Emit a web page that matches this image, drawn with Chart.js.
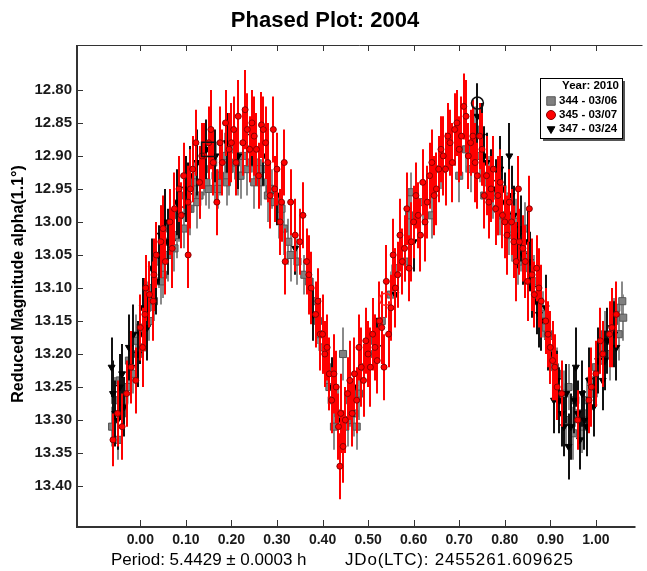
<!DOCTYPE html>
<html>
<head>
<meta charset="utf-8">
<script src="https://cdn.jsdelivr.net/npm/chart.js@4.4.1/dist/chart.umd.min.js"></script>
<style>
  html, body { margin: 0; padding: 0; background: #fff; }
  #wrap { width: 647px; height: 571px; }
</style>
</head>
<body>
<div id="wrap"><canvas id="c" width="647" height="571"></canvas></div>
<script>
// ── data ─────────────────────────────────────────
const xTicks = [0, 0.1, 0.2, 0.3, 0.4, 0.5, 0.6, 0.7, 0.8, 0.9, 1.0];
const yTicks = [12.80, 12.85, 12.90, 12.95, 13.00, 13.05, 13.10, 13.15, 13.20, 13.25, 13.30, 13.35, 13.40];

// 344 - 03/06 (grey squares)
const s344Phase = [-0.062,-0.055,-0.05,-0.045,-0.04,-0.03,-0.025,-0.015,-0.01,0.0,0.005,0.015,0.025,0.03,0.04,0.05,0.055,0.065,0.075,0.085,
  0.095,0.10,0.11,0.12,0.13,0.14,0.15,0.16,0.175,0.185,0.195,0.205,0.215,0.225,0.235,0.245,0.255,0.265,0.275,0.285,
  0.295,0.305,0.315,0.325,0.37,0.38,0.39,0.40,0.41,0.42,0.425,0.435,0.445,0.45,0.46,0.47,0.48,0.49,0.50,0.515,
  0.53,0.55,0.58,0.59,0.595,0.62,0.66,0.715,0.725,0.735,0.745,0.755,0.765,0.775,0.785,0.795,0.805,0.815,0.825,0.835,
  0.845,0.855,0.865,0.875,0.885,0.895,0.905,0.915,0.925,0.935,0.94,0.95,0.96,0.97,0.98,0.99,1.00,1.01,1.02,1.03,
  1.04,1.05,1.058,1.06,
  -0.035,-0.005,0.02,0.045,0.06,0.08,0.105,0.125,0.145,0.165,0.17,0.19,0.21,0.22,0.24,0.25,0.26,0.28,0.29,0.31,
  0.33,0.345,0.36,0.395,0.415,0.455,0.475,0.56,0.64,0.70,0.76,0.79,0.81,0.83,0.85,0.87,0.89,0.91,0.93,0.955,
  0.975,0.995,1.015,1.035,1.045];
const s344Mag = [13.31,13.27,13.33,13.24,13.29,13.25,13.21,13.23,13.18,13.16,13.19,13.13,13.10,13.12,13.06,13.08,13.03,13.01,13.04,12.99,
  13.01,12.96,12.98,12.94,12.96,12.92,12.95,12.91,12.93,12.90,12.92,12.89,12.93,12.90,12.92,12.89,12.91,12.94,12.92,12.95,
  12.97,12.99,13.01,13.03,13.09,13.12,13.15,13.19,13.22,13.27,13.31,13.29,13.20,13.31,13.27,13.29,13.26,13.22,13.20,13.18,
  13.15,13.11,13.06,12.99,12.955,12.97,12.92,12.89,12.92,12.86,12.90,12.96,12.93,12.96,12.98,12.95,12.99,13.02,13.00,13.04,
  13.01,13.07,13.09,13.12,13.14,13.17,13.20,13.23,13.27,13.30,13.25,13.32,13.29,13.31,13.27,13.24,13.22,13.19,13.17,13.20,
  13.15,13.17,13.12,13.145,
  13.27,13.20,13.15,13.09,13.05,13.02,12.98,12.97,12.94,12.93,12.95,12.94,12.91,12.93,12.91,12.94,12.92,12.96,12.95,12.98,
  13.05,13.06,13.08,13.17,13.25,13.30,13.31,13.07,12.99,12.93,12.94,12.99,13.01,13.06,13.05,13.11,13.16,13.22,13.26,13.27,
  13.29,13.26,13.21,13.18,13.13];
const s344Err = [0.03,0.035,0.03,0.04,0.035,0.04,0.035,0.03,0.04,0.035,0.03,0.04,0.035,0.03,0.04,0.035,0.03,0.04,0.035,0.04,
  0.03,0.035,0.04,0.03,0.035,0.04,0.03,0.035,0.03,0.035,0.04,0.035,0.03,0.035,0.04,0.035,0.03,0.035,0.04,0.035,
  0.03,0.035,0.04,0.035,0.03,0.035,0.035,0.04,0.035,0.04,0.035,0.04,0.04,0.035,0.04,0.035,0.04,0.035,0.035,0.04,
  0.035,0.035,0.03,0.035,0.03,0.035,0.03,0.035,0.035,0.035,0.04,0.035,0.03,0.035,0.04,0.035,0.035,0.04,0.035,0.035,
  0.04,0.035,0.04,0.035,0.035,0.04,0.035,0.04,0.035,0.04,0.035,0.04,0.035,0.04,0.035,0.04,0.035,0.04,0.035,0.04,
  0.035,0.04,0.03,0.035,
  0.035,0.04,0.03,0.035,0.04,0.035,0.03,0.04,0.035,0.04,0.03,0.035,0.04,0.035,0.03,0.04,0.035,0.04,0.03,0.035,
  0.04,0.035,0.03,0.04,0.035,0.04,0.035,0.03,0.035,0.04,0.035,0.03,0.04,0.035,0.04,0.035,0.03,0.04,0.035,0.04,
  0.035,0.04,0.035,0.03,0.035];

// 345 - 03/07 (red circles)
const s345Phase = [-0.06,-0.05,-0.04,-0.03,-0.02,-0.01,0.0,0.01,0.02,0.03,0.035,0.045,0.055,0.065,0.075,0.085,0.095,0.105,0.105,0.115,
  0.122,0.13,0.14,0.15,0.16,0.168,0.175,0.187,0.195,0.205,0.215,0.225,0.235,0.245,0.255,0.26,0.266,0.275,0.285,0.292,
  0.30,0.307,0.316,0.318,0.33,0.34,0.357,0.365,0.375,0.385,0.395,0.405,0.415,0.42,0.43,0.435,0.438,0.445,0.45,0.455,
  0.465,0.47,0.48,0.49,0.50,0.51,0.52,0.53,0.535,0.54,0.55,0.555,0.565,0.57,0.58,0.585,0.59,0.60,0.605,0.615,
  0.62,0.63,0.64,0.65,0.66,0.67,0.68,0.69,0.70,0.71,0.715,0.72,0.73,0.74,0.75,0.755,0.765,0.775,0.78,0.79,
  0.80,0.81,0.82,0.83,0.832,0.845,0.854,0.86,0.87,0.88,0.89,0.90,0.91,0.925,0.96,0.985,1.00,1.015,1.03,1.045,
  0.005,0.012,0.028,0.05,0.07,0.09,0.11,0.135,0.155,0.18,0.20,0.21,0.23,0.24,0.25,0.27,0.28,0.295,0.31,0.35,
  0.37,0.39,0.40,0.41,0.425,0.44,0.46,0.475,0.485,0.495,0.505,0.515,0.525,0.545,0.56,0.575,0.595,0.61,0.625,0.635,
  0.645,0.655,0.665,0.675,0.685,0.695,0.705,0.725,0.735,0.745,0.76,0.77,0.785,0.795,0.805,0.815,0.825,0.84,0.85,0.865,
  0.875,0.895,0.905,0.915,0.99,1.01,1.035];
const s345Mag = [13.33,13.29,13.31,13.26,13.22,13.24,13.16,13.14,13.11,13.08,13.05,13.03,13.06,13.00,12.98,12.95,12.93,13.05,12.97,12.92,
  12.88,12.94,12.90,12.88,12.91,12.97,12.88,12.85,12.89,12.86,12.84,12.88,12.86,12.85,12.89,12.93,12.853,12.88,12.96,12.86,
  12.92,13.00,12.91,13.06,12.97,13.02,12.99,13.06,13.10,13.14,13.17,13.20,13.23,13.27,13.25,13.31,13.37,13.34,13.30,13.26,
  13.29,13.23,13.19,13.24,13.20,13.17,13.21,13.16,13.22,13.09,13.13,13.05,13.08,13.02,13.04,12.98,13.07,13.00,12.96,13.02,
  12.94,12.97,12.91,12.95,12.89,12.92,12.88,12.86,12.89,12.825,12.84,12.90,12.87,12.93,12.89,12.96,12.97,12.92,12.98,12.94,
  13.00,12.97,13.03,12.95,13.03,13.06,12.98,13.08,13.07,13.12,13.15,13.19,13.22,13.26,13.30,13.27,13.23,13.20,13.17,13.14,
  13.19,13.10,13.12,13.01,13.04,12.99,12.95,12.90,12.86,12.91,12.88,12.91,12.83,12.89,12.87,12.86,12.91,12.95,12.97,13.03,
  13.08,13.12,13.17,13.19,13.23,13.29,13.24,13.27,13.22,13.18,13.22,13.19,13.15,13.17,13.10,13.06,13.03,12.99,13.00,12.93,
  12.96,12.92,12.90,12.87,12.91,12.85,12.87,12.88,12.91,12.87,12.93,12.95,12.96,12.99,13.02,13.00,13.06,13.04,13.09,13.11,
  13.10,13.17,13.21,13.25,13.25,13.18,13.16];
const s345Err = [0.04,0.05,0.05,0.05,0.055,0.05,0.05,0.055,0.05,0.055,0.05,0.055,0.05,0.05,0.055,0.05,0.05,0.05,0.055,0.05,
  0.05,0.055,0.05,0.055,0.05,0.05,0.055,0.05,0.055,0.05,0.055,0.05,0.055,0.05,0.055,0.05,0.05,0.055,0.05,0.05,
  0.055,0.05,0.05,0.05,0.05,0.055,0.05,0.05,0.055,0.05,0.055,0.05,0.055,0.05,0.055,0.05,0.05,0.055,0.05,0.055,
  0.05,0.055,0.05,0.055,0.05,0.055,0.05,0.055,0.05,0.055,0.05,0.055,0.05,0.055,0.05,0.055,0.05,0.055,0.05,0.055,
  0.05,0.055,0.05,0.055,0.05,0.055,0.05,0.055,0.05,0.05,0.055,0.05,0.055,0.05,0.055,0.05,0.055,0.05,0.055,0.05,
  0.055,0.05,0.055,0.05,0.05,0.055,0.05,0.055,0.05,0.055,0.05,0.055,0.05,0.05,0.045,0.05,0.05,0.05,0.05,0.05,
  0.06,0.05,0.06,0.05,0.06,0.05,0.06,0.05,0.06,0.05,0.06,0.05,0.06,0.05,0.06,0.05,0.06,0.05,0.06,0.05,
  0.06,0.05,0.06,0.05,0.06,0.06,0.06,0.05,0.06,0.05,0.06,0.05,0.06,0.05,0.06,0.05,0.06,0.05,0.06,0.05,
  0.06,0.05,0.06,0.05,0.06,0.05,0.06,0.05,0.06,0.05,0.06,0.05,0.06,0.05,0.06,0.05,0.06,0.05,0.06,0.05,
  0.06,0.05,0.06,0.05,0.06,0.05,0.06];

// 347 - 03/24 (black triangles)
const s347Phase = [-0.063,-0.06,-0.05,-0.045,-0.035,-0.025,-0.015,-0.005,0.005,0.015,0.025,0.035,0.045,0.055,0.07,0.08,0.09,0.10,0.11,0.125,
  0.145,0.165,0.19,0.215,0.245,0.27,0.30,0.34,0.38,0.42,0.44,0.47,0.52,0.56,0.60,0.74,0.75,0.76,0.77,0.78,
  0.79,0.80,0.81,0.82,0.83,0.84,0.85,0.86,0.87,0.88,0.89,0.90,0.908,0.915,0.925,0.935,0.94,0.945,0.953,0.956,
  0.965,0.97,0.975,0.985,0.995,1.005,1.015,1.025,1.035,1.045,
  -0.055,-0.04,-0.02,0.0,0.02,0.04,0.06,0.085,0.105,0.755,0.795,0.815,0.835,0.855,0.875,0.895,0.92,0.93,0.96,0.98,
  0.99,1.02,1.04];
const s347Mag = [13.22,13.26,13.30,13.25,13.28,13.19,13.17,13.20,13.13,13.16,13.07,13.09,13.02,13.00,13.03,12.97,12.99,12.95,12.93,12.91,
  12.89,12.90,12.88,12.90,12.87,12.90,12.96,13.04,13.14,13.25,13.30,13.25,13.19,13.11,13.03,12.84,12.87,12.91,12.94,12.95,
  12.92,12.97,12.90,12.99,13.02,13.05,13.03,13.10,13.12,13.15,13.13,13.20,13.27,13.24,13.29,13.26,13.34,13.31,13.27,13.22,
  13.33,13.26,13.30,13.24,13.28,13.21,13.24,13.18,13.16,13.19,
  13.29,13.23,13.22,13.17,13.11,13.05,13.03,12.98,12.96,12.90,12.95,12.96,13.01,13.06,13.14,13.18,13.27,13.31,13.29,13.31,
  13.25,13.21,13.17];
const s347Err = [0.045,0.05,0.045,0.05,0.045,0.05,0.045,0.05,0.045,0.05,0.045,0.05,0.045,0.05,0.045,0.05,0.045,0.05,0.045,0.05,
  0.045,0.04,0.045,0.05,0.045,0.045,0.045,0.04,0.04,0.045,0.05,0.045,0.045,0.045,0.045,0.05,0.05,0.045,0.05,0.045,
  0.05,0.045,0.05,0.045,0.05,0.045,0.05,0.045,0.05,0.045,0.05,0.045,0.05,0.045,0.05,0.045,0.05,0.05,0.05,0.06,
  0.045,0.05,0.045,0.05,0.045,0.05,0.045,0.05,0.045,0.05,
  0.05,0.045,0.05,0.045,0.05,0.045,0.05,0.045,0.05,0.045,0.05,0.045,0.05,0.045,0.05,0.045,0.05,0.045,0.05,0.045,
  0.05,0.045,0.05];

// highlighted (open) markers
const markPhase = [0.150, 0.538, 0.740];
const markMag   = [12.89, 13.117, 12.82];

const legendTitle = 'Year: 2010';
const legendLabels = ['344 - 03/06', '345 - 03/07', '347 - 03/24'];

const FONT = '"Liberation Sans", Arial, Helvetica, sans-serif';

const pts = (xs, ys) => xs.map((x, i) => ({ x, y: ys[i] }));
const errs = { 1: s344Err, 2: s345Err, 3: s347Err };

// error bars, drawn just before each dataset so stacking matches
const errorBars = {
  id: 'errorBars',
  beforeDatasetDraw(chart, args) {
    const e = errs[args.index];
    if (!e) return;
    const { ctx, scales: { x, y } } = chart;
    const ds = chart.data.datasets[args.index];
    ctx.save();
    ctx.strokeStyle = ds.errColor;
    ctx.lineWidth = 2;
    ctx.beginPath();
    ds.data.forEach((p, i) => {
      if (e[i] === undefined) return;
      const px = Math.round(x.getPixelForValue(p.x));
      ctx.moveTo(px, y.getPixelForValue(p.y - e[i]));
      ctx.lineTo(px, y.getPixelForValue(p.y + e[i]));
    });
    ctx.stroke();
    ctx.restore();
  }
};

const decor = {
  id: 'decor',
  afterDraw(chart) {
    const { ctx, scales: { x, y }, chartArea } = chart;
    ctx.save();
    // frame: left + bottom axes, thin top rule, inside ticks
    ctx.strokeStyle = '#333';
    ctx.lineWidth = 2;
    ctx.beginPath();
    ctx.moveTo(chartArea.left, chartArea.top);
    ctx.lineTo(chartArea.left, chartArea.bottom);
    ctx.lineTo(chartArea.right, chartArea.bottom);
    ctx.stroke();
    ctx.lineWidth = 1;
    ctx.beginPath();
    ctx.moveTo(chartArea.left, chartArea.top + 0.5);
    ctx.lineTo(chartArea.right + 7, chartArea.top + 0.5);
    xTicks.forEach(v => {
      const px = Math.round(x.getPixelForValue(v)) + 0.5;
      ctx.moveTo(px, chartArea.bottom); ctx.lineTo(px, chartArea.bottom - 7);
      ctx.moveTo(px, chartArea.top); ctx.lineTo(px, chartArea.top + 6);
    });
    yTicks.forEach(v => {
      const py = Math.round(y.getPixelForValue(v)) + 0.5;
      ctx.moveTo(chartArea.left, py); ctx.lineTo(chartArea.left + 6, py);
    });
    ctx.stroke();

    // texts
    ctx.fillStyle = '#000';
    ctx.textBaseline = 'middle';
    ctx.textAlign = 'center';
    ctx.font = 'bold 22px ' + FONT;
    ctx.fillText('Phased Plot: 2004', 325, 21);

    ctx.font = '17px ' + FONT;
    ctx.textAlign = 'left';
    ctx.fillText('Period: 5.4429 \u00b1 0.0003 h', 111, 560);
    if ('letterSpacing' in ctx) ctx.letterSpacing = '0.8px';
    ctx.fillText('JDo(LTC): 2455261.609625', 345, 560);
    if ('letterSpacing' in ctx) ctx.letterSpacing = '0px';

    ctx.save();
    ctx.translate(19, 284);
    ctx.rotate(-Math.PI / 2);
    ctx.textAlign = 'center';
    ctx.font = 'bold 16px ' + FONT;
    ctx.fillText('Reduced Magnitude alpha(1.1\u00b0)', 0, 0);
    ctx.restore();

    // legend box
    const lx = 540, ly = 78, lw = 82, lh = 60;
    ctx.fillStyle = '#555';
    ctx.fillRect(lx + 3, ly + 3, lw, lh);
    ctx.fillStyle = '#fff';
    ctx.fillRect(lx, ly, lw, lh);
    ctx.strokeStyle = '#000';
    ctx.lineWidth = 1;
    ctx.strokeRect(lx + 0.5, ly + 0.5, lw, lh);
    ctx.fillStyle = '#000';
    ctx.font = 'bold 11.5px ' + FONT;
    ctx.textAlign = 'right';
    ctx.fillText(legendTitle, lx + lw - 3, ly + 8);
    ctx.textAlign = 'left';
    const ds = chart.data.datasets;
    [1, 2, 3].forEach((di, k) => {
      const ry = ly + 23 + k * 14;
      ctx.fillStyle = '#000';
      ctx.fillText(legendLabels[k], lx + 19, ry);
      const d = ds[di];
      ctx.fillStyle = d.backgroundColor;
      ctx.strokeStyle = d.borderColor;
      ctx.lineWidth = 1;
      Chart.helpers.drawPoint(ctx, {
        pointStyle: d.pointStyle, radius: d.pointStyle === 'rect' ? 6 : 4.5,
        rotation: d.rotation || 0, borderWidth: 1
      }, lx + 11, ry);
    });
    ctx.restore();
  }
};

const xAxis = {
  type: 'linear', min: -0.139, max: 1.087,
  grid: { display: false, drawTicks: false }, border: { display: false },
  afterBuildTicks: s => { s.ticks = xTicks.map(v => ({ value: v })); },
  afterFit: s => { s.height = 44; },
  ticks: { color: '#1a1a1a', padding: 5, maxRotation: 0, autoSkip: false,
    font: { family: FONT, size: 14, weight: 'bold' }, callback: v => v.toFixed(2) }
};
const yAxis = {
  type: 'linear', reverse: true, min: 12.732, max: 13.462,
  grid: { display: false, drawTicks: false }, border: { display: false },
  afterBuildTicks: s => { s.ticks = yTicks.map(v => ({ value: v })); },
  afterFit: s => { s.width = 77; },
  ticks: { color: '#1a1a1a', padding: 5, autoSkip: false,
    font: { family: FONT, size: 15, weight: 'bold' }, callback: v => v.toFixed(2) }
};

new Chart(document.getElementById('c'), {
  type: 'scatter',
  data: {
    datasets: [
      { label: 'marks', data: pts(markPhase, markMag), order: 0,
        pointStyle: ['rect', 'circle', 'circle'], pointRadius: [10, 6, 6],
        backgroundColor: 'rgba(0,0,0,0)', borderColor: ['#111', '#ff2020', '#111'], borderWidth: 1.5 },
      { label: legendLabels[0], data: pts(s344Phase, s344Mag), order: 3,
        pointStyle: 'rect', pointRadius: 5, backgroundColor: '#808080', borderColor: '#555', borderWidth: 1,
        errColor: '#8a8a8a' },
      { label: legendLabels[1], data: pts(s345Phase, s345Mag), order: 1,
        pointStyle: 'circle', pointRadius: 3, backgroundColor: '#ff0000', borderColor: '#8a0000', borderWidth: 1,
        errColor: '#ff0000' },
      { label: legendLabels[2], data: pts(s347Phase, s347Mag), order: 2,
        pointStyle: 'triangle', rotation: 180, pointRadius: 4, backgroundColor: '#000', borderColor: '#000', borderWidth: 1,
        errColor: '#111' }
    ]
  },
  options: {
    responsive: false, animation: false,
    layout: { padding: { top: 45, right: 7, left: 0, bottom: 0 } },
    plugins: { legend: { display: false }, tooltip: { enabled: false }, title: { display: false } },
    scales: { x: xAxis, y: yAxis }
  },
  plugins: [errorBars, decor]
});
</script>
</body>
</html>
